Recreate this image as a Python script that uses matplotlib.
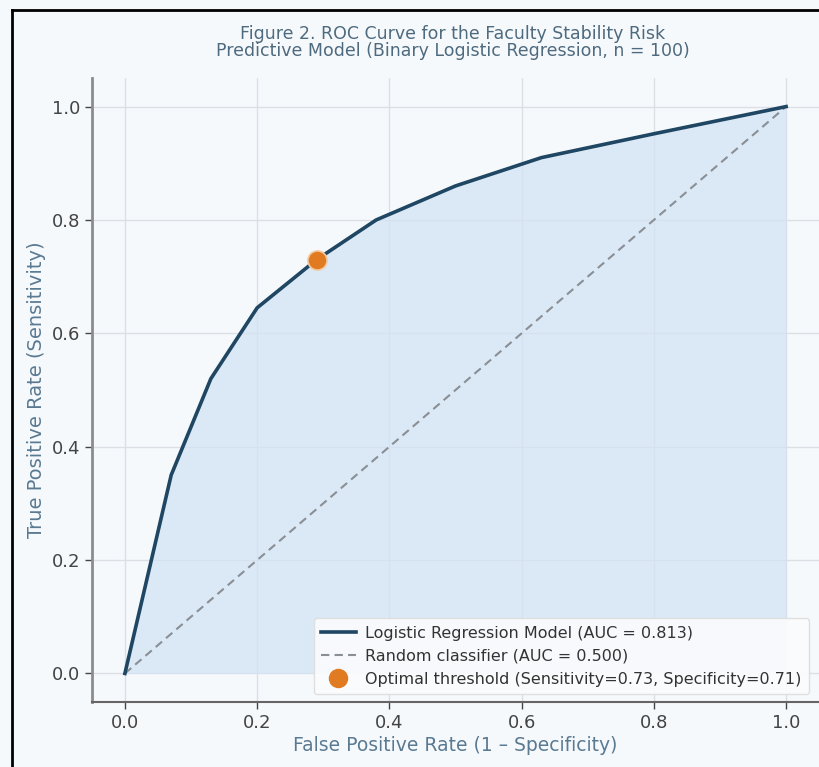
import matplotlib
matplotlib.use("Agg")
import matplotlib.pyplot as plt
from matplotlib.lines import Line2D

fpr = [0.0, 0.07, 0.13, 0.20, 0.29, 0.38, 0.50, 0.63, 0.80, 1.0]
tpr = [0.0, 0.35, 0.52, 0.645, 0.73, 0.80, 0.86, 0.91, 0.952, 1.0]
diag = [0.0, 1.0]
opt_fpr = [0.29]
opt_tpr = [0.73]
xticks = [0.0, 0.2, 0.4, 0.6, 0.8, 1.0]
yticks = [0.0, 0.2, 0.4, 0.6, 0.8, 1.0]

bg = "#f6f9fc"
curve_c = "#1f4662"
fill_c = "#d3e3f3"
orange = "#e07b22"
label_c = "#5a7a92"

fig = plt.figure(figsize=(8.2, 7.67), dpi=100, facecolor=bg)
ax = fig.add_axes([0.112, 0.085, 0.887, 0.813])
ax.set_facecolor(bg)

ax.fill_between(fpr, tpr, 0, color=fill_c, alpha=0.75, zorder=1, linewidth=0)
ax.plot(diag, diag, linestyle=(0, (4, 2.5)), color="#8a8f96", linewidth=1.5, zorder=2)
ax.plot(fpr, tpr, color=curve_c, linewidth=2.6, zorder=3)
ax.scatter(opt_fpr, opt_tpr, s=190, color=orange, zorder=4, edgecolors="#f5c9a0", linewidths=1.2)

ax.set_xlim(-0.05, 1.05)
ax.set_ylim(-0.05, 1.05)
ax.set_xticks(xticks)
ax.set_yticks(yticks)
ax.set_xticklabels([f"{v:.1f}" for v in xticks])
ax.set_yticklabels([f"{v:.1f}" for v in yticks])
ax.tick_params(labelsize=13, colors="#444444", length=5, width=1)
ax.grid(True, color="#dcdfe3", linewidth=1)
ax.set_axisbelow(True)
for s in ["top", "right"]:
    ax.spines[s].set_visible(False)
ax.spines["left"].set_color("#8c8c8c")
ax.spines["left"].set_linewidth(2)
ax.spines["bottom"].set_color("#666666")
ax.spines["bottom"].set_linewidth(1.5)

ax.set_xlabel("False Positive Rate (1 – Specificity)", fontsize=13.5, color=label_c, labelpad=3)
ax.set_ylabel("True Positive Rate (Sensitivity)", fontsize=14, color=label_c, labelpad=4)
fig.text(0.552, 0.945, "Figure 2. ROC Curve for the Faculty Stability Risk\nPredictive Model (Binary Logistic Regression, n = 100)",
         ha="center", va="center", fontsize=12.5, color="#4e6a7e", linespacing=0.95)

handles = [
    Line2D([], [], color=curve_c, linewidth=2.6),
    Line2D([], [], color="#8a8f96", linestyle=(0, (4, 2.5)), linewidth=1.5),
    Line2D([], [], marker="o", linestyle="none", color=orange, markersize=13),
]
labels = [
    "Logistic Regression Model (AUC = 0.813)",
    "Random classifier (AUC = 0.500)",
    "Optimal threshold (Sensitivity=0.73, Specificity=0.71)",
]
leg = ax.legend(handles, labels, loc="lower right", fontsize=11.5, frameon=True,
                facecolor="#fbfcfd", edgecolor="#dddddd", framealpha=0.9,
                borderpad=0.45, handlelength=2.2, labelspacing=0.5, handletextpad=0.6,
                bbox_to_anchor=(0.997, 0.0))
for t in leg.get_texts():
    t.set_color("#333333")

# black frame lines on left and top edges
fig.add_artist(Line2D([0.0145, 0.0145], [0.0, 0.987], transform=fig.transFigure, color="black", linewidth=2))
fig.add_artist(Line2D([0.0145, 1.0], [0.987, 0.987], transform=fig.transFigure, color="black", linewidth=2))

fig.savefig("out.png", dpi=100, facecolor=bg)
